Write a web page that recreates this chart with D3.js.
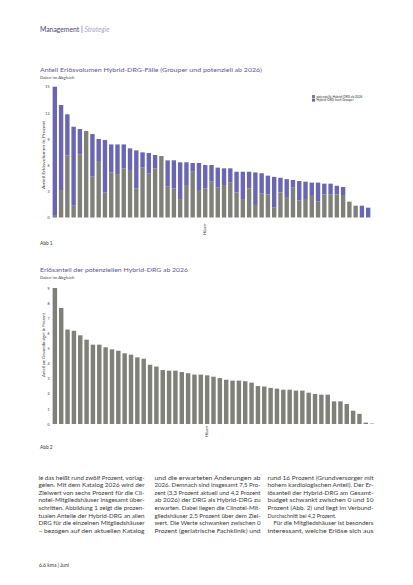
<!DOCTYPE html>
<html><head><meta charset="utf-8">
<script src="https://cdn.jsdelivr.net/npm/d3@7"></script>
<style>body{margin:0;background:#fff}svg{display:block}</style>
</head><body><svg id="c" width="413" height="585"></svg>
<script>
// ---------- data ----------
const houses = d3.range(1, 52).map(i => "H" + i);
// Abb 1: share of revenue volume, stacked (percent)
const potential = [0.28,3.15,7.1,1.35,7.25,9.92,4.68,6.48,2.85,5.15,4.98,5.64,5.45,3.35,5.72,5.03,5.64,7.05,3.54,3.35,2.12,3.72,5.25,3.15,3.35,4.11,3.42,3.72,3.99,2.88,2.12,3.35,1.44,2.78,2.65,1.13,2.88,2.35,3.42,1.97,2.12,2.58,1.82,2.65,2.65,2.65,2.58,1.82,1.35,0,0];
const grouper = [14.72,9.75,4.73,9.06,2.9,0,4.89,2.52,6.03,3.23,3.4,2.74,2.48,4.35,1.75,2.37,1.53,0,3.01,3.21,4.21,2.61,1.0,3.1,2.67,1.91,2.3,1.92,1.65,2.37,3.13,1.9,3.73,2.3,2.15,3.53,1.68,2.05,0.88,2.21,1.99,1.42,2.18,1.23,1.23,0.99,0.92,0,0,1.35,1.13];
// Abb 2: revenue share of potential hybrid DRG (percent)
const budgetShare = [9.0,7.68,6.25,6.17,5.87,5.58,5.25,5.25,5.08,4.94,4.85,4.68,4.59,4.41,4.32,3.92,3.8,3.57,3.53,3.53,3.44,3.36,3.27,3.27,3.22,3.13,3.04,2.93,2.87,2.87,2.83,2.74,2.51,2.48,2.39,2.34,2.27,2.27,2.21,2.21,2.07,1.99,1.94,1.94,1.5,1.5,1.32,0.88,0.67,0.09,0.03];
const ticks1 = [0, 3, 6, 9, 12, 15];
const ticks2 = [0, 1, 2, 3, 4, 5, 6, 7, 8, 9];
const seriesNames = ["potenzielle Hybrid-DRG ab 2026", "Hybrid-DRG nach Grouper"];
const col1 = ["le das heißt rund zwölf Prozent, vorlag-","gelen. Mit dem Katalog 2026 wird der","Zielwert von sechs Prozent für die Cli-","notel-Mitgliedshäuser insgesamt über-","schritten. Abbildung 1 zeigt die prozen-","tualen Anteile der Hybrid-DRG an allen","DRG für die einzelnen Mitgliedshäuser","– bezogen auf den aktuellen Katalog"];
const col2 = ["und die erwarteten Änderungen ab","2026. Demnach sind insgesamt 7,5 Pro-","zent (3,3 Prozent aktuell und 4,2 Prozent","ab 2026) der DRG als Hybrid-DRG zu","erwarten. Dabei liegen die Clinotel-Mit-","gliedshäuser 2,5 Prozent über dem Ziel-","wert. Die Werte schwanken zwischen 0","Prozent (geriatrische Fachklinik) und"];
const col3 = ["rund 16 Prozent (Grundversorger mit","hohem kardiologischen Anteil). Der Er-","lösanteil der Hybrid-DRG am Gesamt-","budget schwankt zwischen 0 und 10","Prozent (Abb. 2) und liegt im Verbund-","Durchschnitt bei 4,2 Prozent.","Für die Mitgliedshäuser ist besonders","interessant, welche Erlöse sich aus"];

// ---------- styles ----------
const PURPLE = "#6a66b2", GRAY = "#80807b", TITLE = "#5a56a0", FONT = "Lato, 'Open Sans', sans-serif";
const svg = d3.select("#c").style("font-family", FONT);

// header
const hdr = svg.append("text").attr("x", 40).attr("y", 31.5).attr("font-size", 6.8);
hdr.append("tspan").text("Management").attr("fill", "#4a4870");
hdr.append("tspan").text(" | ").attr("fill", "#4a4870");
hdr.append("tspan").text("Strategie").attr("fill", "#a9a6d2").attr("font-style", "italic");

function titleBlock(y, title, len) {
  svg.append("text").attr("x", 40).attr("y", y).attr("font-size", 6.2).attr("fill", TITLE)
    .attr("textLength", len).attr("lengthAdjust", "spacingAndGlyphs").text(title);
  svg.append("text").attr("x", 40).attr("y", y + 7).attr("font-size", 4.3).attr("fill", "#444")
    .text("Daten im Abgleich");
}

// ---------- chart 1 ----------
titleBlock(72, "Anteil Erlösvolumen Hybrid-DRG-Fälle (Grouper und potenziell ab 2026)", 222);
const x1 = d3.scaleBand().domain(houses).range([52, 371]).paddingInner(0.3).paddingOuter(0.1);
const y1 = d3.scaleLinear().domain([0, 15]).range([217.5, 86.7]);
const stackData = houses.map((h, i) => ({house: h, potential: potential[i], grouper: grouper[i]}));
const stacked = d3.stack().keys(["potential", "grouper"])(stackData);
const colors = {potential: GRAY, grouper: PURPLE};
svg.append("g").selectAll("g").data(stacked).join("g").attr("fill", d => colors[d.key])
  .selectAll("rect").data(d => d).join("rect")
  .attr("x", d => x1(d.data.house)).attr("width", x1.bandwidth())
  .attr("y", d => y1(d[1])).attr("height", d => Math.max(0, y1(d[0]) - y1(d[1])));
const ax1 = svg.append("g").attr("transform", "translate(51,0)")
  .call(d3.axisLeft(y1).tickValues(ticks1).tickSize(0).tickPadding(1.5));
ax1.select(".domain").remove();
ax1.selectAll("text").attr("font-size", 3.6).attr("fill", "#333").attr("font-family", FONT);
svg.append("text").attr("transform", "translate(45,155) rotate(-90)").attr("text-anchor", "middle")
  .attr("font-size", 3.6).attr("fill", "#333").attr("textLength", 68).attr("lengthAdjust", "spacingAndGlyphs")
  .text("Anteil Erlösvolumen in Prozent");
svg.append("text").attr("transform", "translate(205.5,229) rotate(-90)").attr("text-anchor", "middle")
  .attr("font-size", 3.6).attr("fill", "#333").text("Häuser");
// legend
const lg = svg.append("g").attr("transform", "translate(312,95)");
seriesNames.forEach((n, i) => {
  lg.append("rect").attr("x", 0).attr("y", i * 3.6).attr("width", 3).attr("height", 3).attr("fill", i === 0 ? GRAY : PURPLE);
  lg.append("text").attr("x", 4.5).attr("y", i * 3.6 + 2.7).attr("font-size", 3.2).attr("fill", "#333").text(n);
});
svg.append("text").attr("x", 40).attr("y", 245).attr("font-size", 4.8).attr("fill", "#333").text("Abb 1");

// ---------- chart 2 ----------
titleBlock(272, "Erlösanteil der potenziellen Hybrid-DRG ab 2026", 148);
const x2 = d3.scaleBand().domain(houses).range([52, 375]).paddingInner(0.3).paddingOuter(0.1);
const y2 = d3.scaleLinear().domain([0, 9]).range([424, 288]);
svg.append("g").attr("fill", GRAY).selectAll("rect").data(budgetShare).join("rect")
  .attr("x", (d, i) => x2(houses[i])).attr("width", x2.bandwidth())
  .attr("y", d => y2(d)).attr("height", d => y2(0) - y2(d));
const ax2 = svg.append("g").attr("transform", "translate(51,0)")
  .call(d3.axisLeft(y2).tickValues(ticks2).tickSize(0).tickPadding(1.5));
ax2.select(".domain").remove();
ax2.selectAll("text").attr("font-size", 3.6).attr("fill", "#333").attr("font-family", FONT);
svg.append("text").attr("transform", "translate(45,345) rotate(-90)").attr("text-anchor", "middle")
  .attr("font-size", 3.6).attr("fill", "#333").attr("textLength", 64).attr("lengthAdjust", "spacingAndGlyphs")
  .text("Anteil am Gesamtbudget in Prozent");
svg.append("text").attr("transform", "translate(208,431) rotate(-90)").attr("text-anchor", "middle")
  .attr("font-size", 3.6).attr("fill", "#333").text("Häuser");
svg.append("text").attr("x", 40).attr("y", 449).attr("font-size", 4.8).attr("fill", "#333").text("Abb 2");

// ---------- body text ----------
const cols = [[col1, 38.5], [col2, 154.5], [col3, 267.5]];
cols.forEach(([lines, cx], ci) => {
  lines.forEach((ln, li) => {
    const indent = (ci === 2 && li === 6) ? 6 : 0;
    const t = svg.append("text").attr("x", cx + indent).attr("y", 479.5 + li * 7.65)
      .attr("font-size", 5.4).attr("fill", "#3a3a3a").text(ln);
    const last = (ci === 2 && li === 5);
    if (!last) t.attr("textLength", 106 - indent).attr("lengthAdjust", "spacingAndGlyphs");
  });
});
svg.append("text").attr("x", 39).attr("y", 567).attr("font-size", 5).attr("fill", "#333").text("6.6   kma | Juni");
</script></body></html>
